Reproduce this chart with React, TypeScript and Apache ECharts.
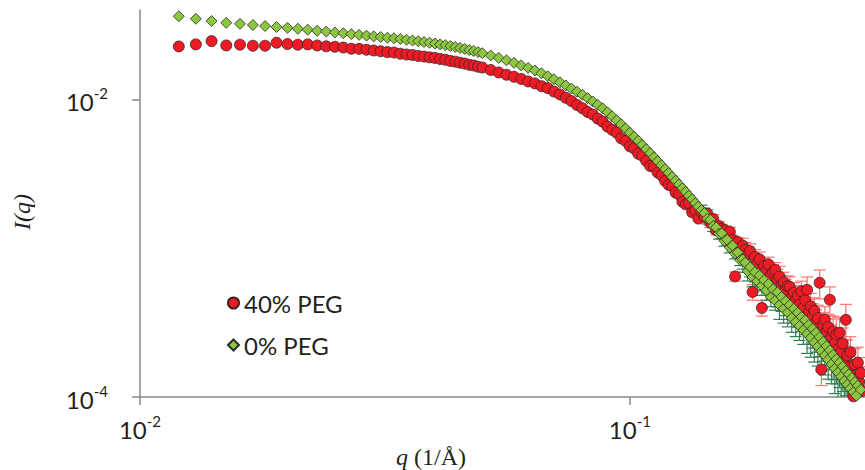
import React, { useEffect, useRef } from 'react';
import * as echarts from 'echarts';

// q (1/Å)
const qValues = [
  0.012, 0.013, 0.014, 0.015, 0.016, 0.017, 0.018, 0.019, 0.020, 0.021,
  0.022, 0.023, 0.024, 0.025, 0.026, 0.027, 0.028, 0.029, 0.030, 0.031,
  0.032, 0.033, 0.034, 0.035, 0.036, 0.037, 0.038, 0.039, 0.040, 0.041,
  0.042, 0.043, 0.044, 0.045, 0.046, 0.047, 0.048, 0.049, 0.050,
  0.052, 0.054, 0.056, 0.058, 0.060, 0.062, 0.064, 0.066, 0.068, 0.070,
  0.072, 0.074, 0.076, 0.078, 0.080, 0.082, 0.084, 0.086, 0.088, 0.090,
  0.092, 0.094, 0.096, 0.098, 0.100, 0.102, 0.104, 0.106, 0.108, 0.110,
  0.112, 0.114, 0.116, 0.118, 0.120, 0.122, 0.124, 0.126, 0.128, 0.130,
  0.132, 0.134, 0.136, 0.138, 0.140, 0.142, 0.144, 0.146, 0.148, 0.150,
  0.152, 0.154, 0.156, 0.158, 0.160, 0.162, 0.164, 0.166, 0.168, 0.170,
  0.172, 0.174, 0.176, 0.178, 0.180, 0.182, 0.184, 0.186, 0.188, 0.190,
  0.192, 0.194, 0.196, 0.198, 0.200, 0.202, 0.204, 0.206, 0.208, 0.210,
  0.212, 0.214, 0.216, 0.218, 0.220, 0.222, 0.224, 0.226, 0.228, 0.230,
  0.232, 0.234, 0.236, 0.238, 0.240, 0.242, 0.244, 0.246, 0.248, 0.250,
  0.252, 0.254, 0.256, 0.258, 0.260, 0.262, 0.264, 0.266, 0.268, 0.270,
  0.272, 0.274, 0.276, 0.278, 0.280, 0.282, 0.284, 0.286, 0.288, 0.290,
  0.292, 0.294, 0.296, 0.298,
];

// I(q), 40% PEG
const peg40 = [
  0.02265, 0.02339, 0.02460, 0.02301, 0.02328, 0.02291, 0.02291, 0.02399, 0.02350, 0.02328,
  0.02339, 0.02301, 0.02270, 0.02254, 0.02228, 0.02188, 0.02183, 0.02153, 0.02128, 0.02104,
  0.02075, 0.02061, 0.02023, 0.02000, 0.01986, 0.01954, 0.01936, 0.01914, 0.01897, 0.01866,
  0.01845, 0.01811, 0.01791, 0.01762, 0.01738, 0.01706, 0.01687, 0.01656, 0.01633,
  0.01574, 0.01514, 0.01462, 0.01416, 0.01371, 0.01318, 0.01279, 0.01225, 0.01189, 0.01127,
  0.01079, 0.01023, 0.00973, 0.00916, 0.00871, 0.00822, 0.00791, 0.00741, 0.00708, 0.00656,
  0.00624, 0.00596, 0.00547, 0.00525, 0.00483, 0.00468, 0.00431, 0.00417, 0.00385, 0.00357,
  0.00351, 0.00322, 0.00309, 0.00283, 0.00266, 0.00261, 0.00236, 0.00229, 0.00205, 0.00197,
  0.00200, 0.00174, 0.00180, 0.00158, 0.00174, 0.00162, 0.00170, 0.00148, 0.00157, 0.00132,
  0.00141, 0.00135, 0.00132, 0.00120, 0.00129, 0.00114, 0.000646, 0.00110, 0.00100, 0.00104,
  0.000973, 0.000912, 0.000955, 0.000508, 0.000871, 0.000794, 0.000841, 0.000397, 0.000759, 0.000708,
  0.000776, 0.000661, 0.000692, 0.000714, 0.000617, 0.000646, 0.000562, 0.000589, 0.000525, 0.000556,
  0.000550, 0.000468, 0.000501, 0.000447, 0.000479, 0.000417, 0.000513, 0.000398, 0.000447, 0.000525,
  0.000372, 0.000407, 0.000347, 0.000380, 0.000316, 0.000339, 0.000585, 0.000153, 0.000302, 0.000331,
  0.000275, 0.000295, 0.000450, 0.000251, 0.000275, 0.000229, 0.000263, 0.000209, 0.000270, 0.000200,
  0.000229, 0.000174, 0.000330, 0.000191, 0.000158, 0.000200, 0.000138, 0.000101, 0.000166, 0.000132,
  0.000170, 0.000126, 0.000145, 0.000110,
];

// I(q), 0% PEG
const peg0 = [
  0.03614, 0.03475, 0.03357, 0.03266, 0.03214, 0.03155, 0.03105, 0.03062, 0.03020, 0.02979,
  0.02938, 0.02891, 0.02851, 0.02812, 0.02780, 0.02742, 0.02710, 0.02679, 0.02649, 0.02624,
  0.02594, 0.02570, 0.02541, 0.02512, 0.02483, 0.02455, 0.02427, 0.02399, 0.02371, 0.02339,
  0.02312, 0.02280, 0.02249, 0.02213, 0.02178, 0.02143, 0.02109, 0.02075, 0.02042,
  0.01968, 0.01897, 0.01828, 0.01758, 0.01690, 0.01626, 0.01563, 0.01496, 0.01429, 0.01365,
  0.01300, 0.01239, 0.01180, 0.01125, 0.01072, 0.01019, 0.00968, 0.00918, 0.00869, 0.00818,
  0.00769, 0.00723, 0.00679, 0.00637, 0.00596, 0.00560, 0.00526, 0.00494, 0.00463, 0.00435,
  0.00408, 0.00384, 0.00361, 0.00340, 0.00320, 0.00301, 0.00284, 0.00268, 0.00253, 0.00239,
  0.00225, 0.00213, 0.00201, 0.00190, 0.00180, 0.00172, 0.00158, 0.00155, 0.00141, 0.00138,
  0.00125, 0.00126, 0.00112, 0.00114, 0.00101, 0.00104, 0.000920, 0.000935, 0.000830, 0.000840,
  0.000800, 0.000700, 0.000745, 0.000640, 0.000690, 0.000600, 0.000655, 0.000560, 0.000610, 0.000520,
  0.000575, 0.000470, 0.000530, 0.000445, 0.000505, 0.000415, 0.000470, 0.000392, 0.000440, 0.000370,
  0.000415, 0.000340, 0.000392, 0.000318, 0.000368, 0.000300, 0.000345, 0.000282, 0.000328, 0.000265,
  0.000305, 0.000250, 0.000288, 0.000232, 0.000270, 0.000218, 0.000252, 0.000203, 0.000235, 0.000190,
  0.000220, 0.000178, 0.000206, 0.000166, 0.000192, 0.000155, 0.000180, 0.000146, 0.000170, 0.000137,
  0.000160, 0.000128, 0.000150, 0.000121, 0.000142, 0.000114, 0.000134, 0.000108, 0.000126, 0.000102,
  0.000119, 0.000098, 0.000112, 0.000095,
];

// relative errors, by q bin (q >= bin start)
const errQBins = [0.14, 0.17, 0.2, 0.23, 0.26];
const relErr40 = [0.07, 0.12, 0.17, 0.22, 0.27];
const relErr0 = [0.08, 0.14, 0.2, 0.26, 0.32];

// tick exponents (log10)
const xTickExponents = [-2, -1];
const yTickExponents = [-4, -2];
const seriesNames = ['40% PEG', '0% PEG'];

const TEXT = '#231f20';
const AXIS = '#898989';

function relErrFor(q: number, table: number[]): number {
  let e = 0;
  for (let i = 0; i < errQBins.length; i++) if (q >= errQBins[i]) e = table[i];
  return e;
}

function pointData(vals: number[]) {
  return qValues.map((q, i) => [Math.log10(q), Math.log10(vals[i])]);
}

function errData(vals: number[], table: number[]) {
  const out: number[][] = [];
  qValues.forEach((q, i) => {
    const e = relErrFor(q, table);
    if (e > 0) {
      out.push([Math.log10(q), Math.log10(vals[i] * (1 - e)), Math.log10(vals[i] * (1 + e))]);
    }
  });
  return out;
}

function errSeries(data: number[][], color: string, z: number) {
  return {
    type: 'custom',
    silent: true,
    clip: true,
    z,
    data,
    encode: { x: 0, y: [1, 2] },
    renderItem: (params: any, api: any) => {
      const x = api.value(0);
      const lo = api.coord([x, api.value(1)]);
      const hi = api.coord([x, api.value(2)]);
      const hw = 6;
      const style = { stroke: color, lineWidth: 1.2 };
      return {
        type: 'group',
        children: [
          { type: 'line', shape: { x1: lo[0], y1: lo[1], x2: hi[0], y2: hi[1] }, style },
          { type: 'line', shape: { x1: lo[0] - hw, y1: lo[1], x2: lo[0] + hw, y2: lo[1] }, style },
          { type: 'line', shape: { x1: hi[0] - hw, y1: hi[1], x2: hi[0] + hw, y2: hi[1] }, style },
        ],
      };
    },
  };
}

const tickRich = {
  b: { fontFamily: 'Lato', fontSize: 24, color: TEXT, lineHeight: 28, verticalAlign: 'bottom' },
  s: { fontFamily: 'Lato', fontSize: 15, color: TEXT, lineHeight: 16, verticalAlign: 'top' },
};
const tickFormatter = (v: number) => `{b|10}{s|${Math.round(v)}}`;

export default function App() {
  const ref = useRef<HTMLDivElement>(null);
  useEffect(() => {
    const chart = echarts.init(ref.current!, null, { renderer: 'svg' });
    chart.setOption({
      animation: false,
      backgroundColor: '#ffffff',
      grid: { left: 140, right: 0, top: 10, bottom: 73, containLabel: false },
      xAxis: {
        type: 'value',
        min: -2,
        max: -0.52,
        splitLine: { show: false },
        axisLine: { lineStyle: { color: AXIS, width: 1.5 } },
        axisTick: { customValues: xTickExponents, length: 8, lineStyle: { color: AXIS, width: 1.5 } },
        axisLabel: { customValues: xTickExponents, margin: 16, formatter: tickFormatter, rich: tickRich },
      },
      yAxis: {
        type: 'value',
        min: -4,
        max: -1.4,
        splitLine: { show: false },
        axisLine: { show: true, lineStyle: { color: AXIS, width: 1.5 } },
        axisTick: { show: true, customValues: yTickExponents, length: 8, lineStyle: { color: AXIS, width: 1.5 } },
        axisLabel: { customValues: yTickExponents, margin: 32, formatter: tickFormatter, rich: tickRich },
      },
      legend: {
        orient: 'vertical',
        left: 227,
        top: 291,
        padding: 0,
        itemGap: 18,
        itemWidth: 11,
        itemHeight: 11,
        data: seriesNames,
        textStyle: { fontFamily: 'Lato', fontSize: 24, color: TEXT, lineHeight: 24 },
      },
      graphic: [
        {
          type: 'text',
          x: 22,
          y: 212,
          rotation: Math.PI / 2,
          style: {
            text: 'I(q)',
            fontFamily: 'Liberation Serif',
            fontStyle: 'italic',
            fontSize: 24,
            fill: TEXT,
            align: 'center',
            verticalAlign: 'middle',
          },
        },
        {
          type: 'text',
          x: 431,
          y: 457,
          style: {
            text: '{i|q} (1/Å)',
            fontFamily: 'Liberation Serif',
            fontSize: 24,
            fill: TEXT,
            align: 'center',
            verticalAlign: 'middle',
            rich: { i: { fontStyle: 'italic', fontFamily: 'Liberation Serif', fontSize: 24, fill: TEXT } },
          },
        },
      ],
      series: [
        errSeries(errData(peg40, relErr40), '#ff7373', 1),
        errSeries(errData(peg0, relErr0), '#2f8050', 1),
        {
          name: seriesNames[0],
          type: 'scatter',
          symbol: 'circle',
          symbolSize: 11,
          z: 2,
          data: pointData(peg40),
          itemStyle: { color: '#ED1C24', borderColor: '#3a2224', borderWidth: 0.8, opacity: 1 },
        },
        {
          name: seriesNames[1],
          type: 'scatter',
          symbol: 'diamond',
          symbolSize: 11,
          z: 3,
          data: pointData(peg0),
          itemStyle: { color: '#8DC63F', borderColor: '#2b2b2b', borderWidth: 0.8, opacity: 1 },
        },
      ],
    });
    return () => chart.dispose();
  }, []);
  return <div ref={ref} style={{ position: 'absolute', left: 0, top: 0, width: 865, height: 470 }} />;
}
